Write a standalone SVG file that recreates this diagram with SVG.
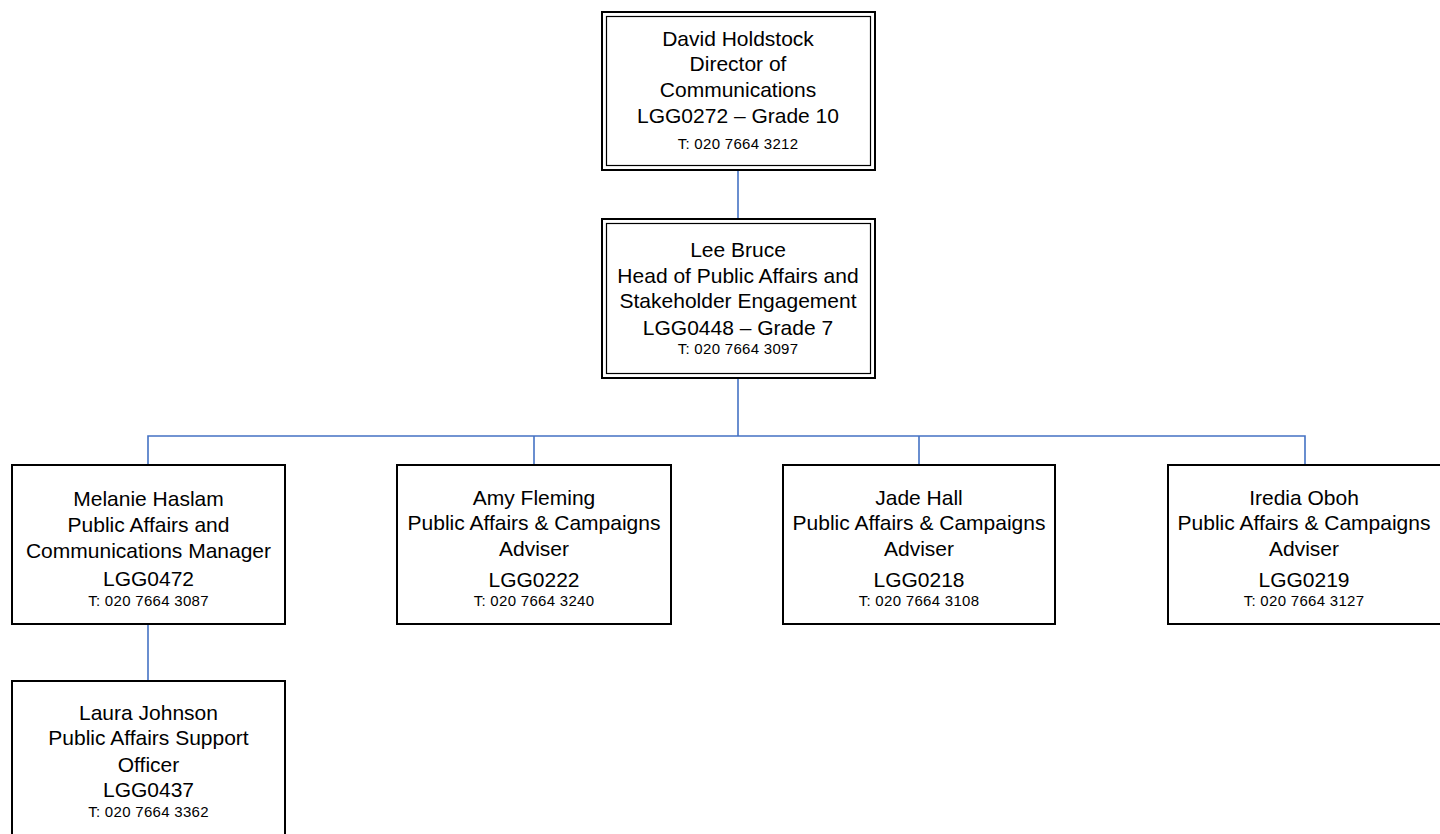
<svg xmlns="http://www.w3.org/2000/svg" width="1440" height="834" viewBox="0 0 1440 834">
<style>
.box{fill:#fff;stroke:#000;stroke-width:2}
.inner{fill:none;stroke:#000;stroke-width:1.2}
.t{font-family:"Liberation Sans",Arial,sans-serif;font-size:21px;fill:#000;text-anchor:middle}
.s{font-family:"Liberation Sans",Arial,sans-serif;font-size:15px;letter-spacing:0.3px;fill:#000;text-anchor:middle}
.c{fill:none;stroke:#4472C4;stroke-width:1.6}
</style>
<rect width="1440" height="834" fill="#fff"/>
<g id="connectors">
<path class="c" d="M738 170V219"/>
<path class="c" d="M738 378V436"/>
<path class="c" d="M148 465V436H1305V465"/>
<path class="c" d="M534 436V465"/>
<path class="c" d="M919 436V465"/>
<path class="c" d="M148 624V681"/>
</g>
<g id="david">
<rect class="box" x="602" y="12" width="273" height="158"/>
<rect class="inner" x="606.5" y="16.5" width="264" height="149"/>
<text class="t" x="738" y="46">David Holdstock</text>
<text class="t" x="738" y="71">Director of</text>
<text class="t" x="738" y="97">Communications</text>
<text class="t" x="738" y="123">LGG0272 – Grade 10</text>
<text class="s" x="738" y="149">T: 020 7664 3212</text>
</g>
<g id="lee">
<rect class="box" x="602" y="219" width="273" height="159"/>
<rect class="inner" x="606.5" y="223.5" width="264" height="150"/>
<text class="t" x="738" y="257">Lee Bruce</text>
<text class="t" x="738" y="283">Head of Public Affairs and</text>
<text class="t" x="738" y="308">Stakeholder Engagement</text>
<text class="t" x="738" y="335">LGG0448 – Grade 7</text>
<text class="s" x="738" y="354">T: 020 7664 3097</text>
</g>
<g id="melanie">
<rect class="box" x="12" y="465" width="273" height="159"/>
<text class="t" x="148.5" y="506">Melanie Haslam</text>
<text class="t" x="148.5" y="532">Public Affairs and</text>
<text class="t" x="148.5" y="558">Communications Manager</text>
<text class="t" x="148.5" y="586">LGG0472</text>
<text class="s" x="148.5" y="606">T: 020 7664 3087</text>
</g>
<g id="amy">
<rect class="box" x="397" y="465" width="274" height="159"/>
<text class="t" x="534" y="505">Amy Fleming</text>
<text class="t" x="534" y="530">Public Affairs &amp; Campaigns</text>
<text class="t" x="534" y="556">Adviser</text>
<text class="t" x="534" y="587">LGG0222</text>
<text class="s" x="534" y="606">T: 020 7664 3240</text>
</g>
<g id="jade">
<rect class="box" x="783" y="465" width="272" height="159"/>
<text class="t" x="919" y="505">Jade Hall</text>
<text class="t" x="919" y="530">Public Affairs &amp; Campaigns</text>
<text class="t" x="919" y="556">Adviser</text>
<text class="t" x="919" y="587">LGG0218</text>
<text class="s" x="919" y="606">T: 020 7664 3108</text>
</g>
<g id="iredia">
<rect class="box" x="1168" y="465" width="273" height="159"/>
<text class="t" x="1304" y="505">Iredia Oboh</text>
<text class="t" x="1304" y="530">Public Affairs &amp; Campaigns</text>
<text class="t" x="1304" y="556">Adviser</text>
<text class="t" x="1304" y="587">LGG0219</text>
<text class="s" x="1304" y="606">T: 020 7664 3127</text>
</g>
<g id="laura">
<rect class="box" x="12" y="681" width="273" height="170"/>
<text class="t" x="148.5" y="720">Laura Johnson</text>
<text class="t" x="148.5" y="745">Public Affairs Support</text>
<text class="t" x="148.5" y="772">Officer</text>
<text class="t" x="148.5" y="797">LGG0437</text>
<text class="s" x="148.5" y="817">T: 020 7664 3362</text>
</g>
</svg>
